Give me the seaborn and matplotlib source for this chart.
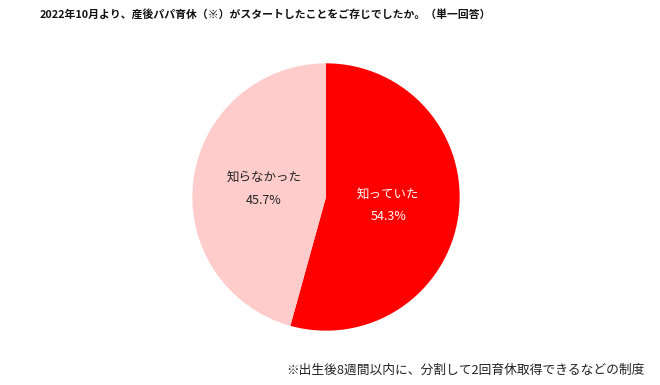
import matplotlib
matplotlib.use("Agg")
import matplotlib.pyplot as plt
import seaborn as sns

# data
answers = ["知っていた", "知らなかった"]
shares = [54.3, 45.7]
slice_colors = ["#FF0000", "#FFCCCC"]
label_colors = ["white", "#222222"]
title = "2022年10月より、産後パパ育休（※）がスタートしたことをご存じでしたか。（単一回答）"
footnote = "※出生後8週間以内に、分割して2回育休取得できるなどの制度"

sns.set_theme(style="white")
plt.rcParams["font.family"] = ["Noto Sans CJK JP", "DejaVu Sans"]

fig = plt.figure(figsize=(6.6, 3.85), dpi=100)
fig.patch.set_facecolor("white")

# pie centred around (326, 197) px with radius ~135 px
cx, cy, r = 326, 197, 135
ax = fig.add_axes([(cx - r) / 660, (385 - cy - r) / 385, 2 * r / 660, 2 * r / 385])

labels_iter = iter(answers)
wedges, texts, autotexts = ax.pie(
    shares,
    colors=slice_colors,
    startangle=90,
    counterclock=False,
    radius=1,
    autopct=lambda p: f"{next(labels_iter)}\n{p:.1f}%",
    pctdistance=0.47,
    wedgeprops=dict(linewidth=0),
)
for t, c in zip(autotexts, label_colors):
    t.set_color(c)
    t.set_fontsize(9)
    t.set_linespacing(2.0)
ax.set_xlim(-1.01, 1.01)
ax.set_ylim(-1.01, 1.01)
ax.set_aspect("equal")
ax.axis("off")

fig.text(40 / 660, 1 - 14 / 385, title, ha="left", va="center",
         fontsize=7.8, fontweight="bold", color="#111111")
fig.text(645 / 660, 1 - 370 / 385, footnote, ha="right", va="center",
         fontsize=9.2, color="#222222")

fig.savefig("out.png", dpi=100, facecolor="white")
